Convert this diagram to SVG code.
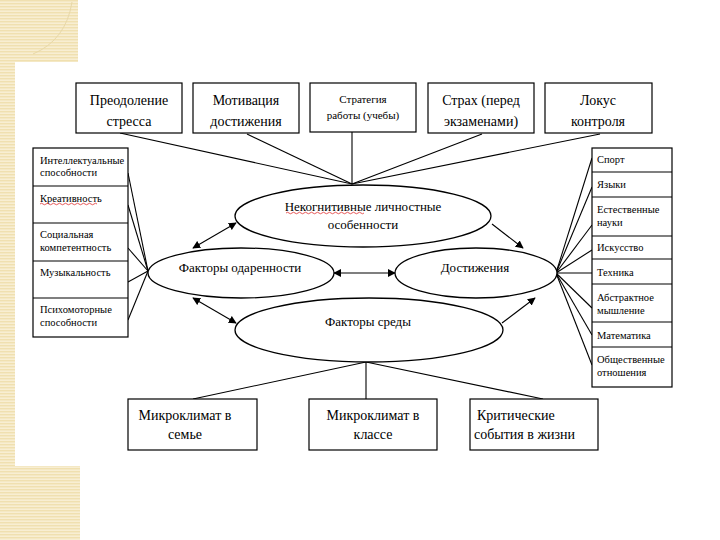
<svg xmlns="http://www.w3.org/2000/svg" width="720" height="540" viewBox="0 0 720 540">
<defs>
<pattern id="stripes" width="4" height="3" patternUnits="userSpaceOnUse">
<rect width="4" height="3" fill="#f8eed2"/>
<rect width="4" height="1.4" fill="#f0e0b0"/>
</pattern>
<marker id="ah" viewBox="0 0 10 10" refX="9" refY="5" markerWidth="8" markerHeight="8" markerUnits="userSpaceOnUse" orient="auto-start-reverse">
<path d="M0,0 L10,5 L0,10 z" fill="#000"/>
</marker>
<style>
.box{fill:#fff;stroke:#000;stroke-width:1.2}
.ell{fill:#fff;stroke:#000;stroke-width:1.3}
.ln{stroke:#000;stroke-width:1.1;fill:none}
.t14{font-size:14px;text-anchor:middle}
.t11{font-size:11px;text-anchor:middle}
.t13{font-size:13px;text-anchor:middle}
.ts{font-size:10.5px}
.wavy{stroke:#e03030;stroke-width:0.8;fill:none}
</style>
</defs>
<rect width="720" height="540" fill="#fff"/>
<g id="decor">
<rect x="0" y="0" width="78" height="62" fill="url(#stripes)"/>
<rect x="0" y="62" width="15" height="404" fill="url(#stripes)"/>
<rect x="0" y="466" width="80" height="74" fill="url(#stripes)"/>
<path d="M72,2 Q66,40 33,54" stroke="#e8d8a8" stroke-width="1" fill="none"/>
</g>
<g id="connectors">
<line class="ln" x1="120" y1="133" x2="352" y2="184"/>
<line class="ln" x1="247" y1="134" x2="352" y2="184"/>
<line class="ln" x1="352" y1="132" x2="352" y2="184"/>
<line class="ln" x1="482" y1="134" x2="352" y2="184"/>
<line class="ln" x1="600" y1="134" x2="352" y2="184"/>
<line class="ln" x1="128" y1="173" x2="148" y2="271"/>
<line class="ln" x1="128" y1="205" x2="148" y2="271"/>
<line class="ln" x1="128" y1="248" x2="148" y2="271"/>
<line class="ln" x1="128" y1="282" x2="148" y2="271"/>
<line class="ln" x1="128" y1="320" x2="148" y2="271"/>
<line class="ln" x1="592" y1="158" x2="556" y2="273"/>
<line class="ln" x1="592" y1="187" x2="556" y2="273"/>
<line class="ln" x1="592" y1="225" x2="556" y2="273"/>
<line class="ln" x1="592" y1="250" x2="556" y2="273"/>
<line class="ln" x1="592" y1="273" x2="556" y2="273"/>
<line class="ln" x1="592" y1="308" x2="556" y2="273"/>
<line class="ln" x1="592" y1="335" x2="556" y2="273"/>
<line class="ln" x1="592" y1="365" x2="556" y2="273"/>
<line class="ln" x1="366" y1="362" x2="193" y2="399"/>
<line class="ln" x1="366" y1="362" x2="366" y2="399"/>
<line class="ln" x1="366" y1="362" x2="543" y2="399"/>
<line class="ln" x1="236" y1="223" x2="193" y2="248" marker-start="url(#ah)" marker-end="url(#ah)"/>
<line class="ln" x1="492" y1="224" x2="523" y2="248" marker-end="url(#ah)"/>
<line class="ln" x1="334" y1="273" x2="395" y2="273" marker-start="url(#ah)" marker-end="url(#ah)"/>
<line class="ln" x1="193" y1="298" x2="236" y2="323" marker-start="url(#ah)" marker-end="url(#ah)"/>
<line class="ln" x1="502" y1="323" x2="535" y2="298" marker-end="url(#ah)"/>
</g>
<g font-family="Liberation Serif, Times New Roman, DejaVu Serif, serif" fill="#000">
<g id="box-stress"><rect class="box" x="76" y="83" width="106" height="50"/><text class="t14" x="129" y="105">Преодоление</text><text class="t14" x="129" y="126">стресса</text></g>
<g id="box-motivation"><rect class="box" x="193" y="83" width="106" height="50"/><text class="t14" x="246" y="105">Мотивация</text><text class="t14" x="246" y="126">достижения</text></g>
<g id="box-strategy"><rect class="box" x="310" y="83" width="106" height="49"/><text class="t11" x="363" y="103">Стратегия</text><text class="t11" x="363" y="119">работы (учебы)</text></g>
<g id="box-fear"><rect class="box" x="428" y="83" width="106" height="50"/><text class="t14" x="481" y="105">Страх (перед</text><text class="t14" x="481" y="126">экзаменами)</text></g>
<g id="box-locus"><rect class="box" x="545" y="83" width="107" height="50"/><text class="t14" x="598" y="105">Локус</text><text class="t14" x="598" y="126">контроля</text></g>
<g id="left-column">
<rect class="box" x="33" y="148" width="95" height="189"/>
<line class="ln" x1="33" y1="186" x2="128" y2="186"/>
<line class="ln" x1="33" y1="223" x2="128" y2="223"/>
<line class="ln" x1="33" y1="261" x2="128" y2="261"/>
<line class="ln" x1="33" y1="298" x2="128" y2="298"/>
<text class="ts" x="40" y="164">Интеллектуальные</text><text class="ts" x="40" y="176">способности</text>
<text class="ts" x="40" y="202">Креативность</text>
<path class="wavy" d="M40,204 q1.5,-1.5 3,0 t3,0 t3,0 t3,0 t3,0 t3,0 t3,0 t3,0 t3,0 t3,0 t3,0 t3,0 t3,0 t3,0 t3,0 t3,0 t3,0 t3,0 t3,0"/>
<text class="ts" x="40" y="238">Социальная</text><text class="ts" x="40" y="251">компетентность</text>
<text class="ts" x="40" y="276">Музыкальность</text>
<text class="ts" x="40" y="313">Психомоторные</text><text class="ts" x="40" y="326">способности</text>
</g>
<g id="right-column">
<rect class="box" x="592" y="148" width="80" height="239"/>
<line class="ln" x1="592" y1="172" x2="672" y2="172"/>
<line class="ln" x1="592" y1="197" x2="672" y2="197"/>
<line class="ln" x1="592" y1="236" x2="672" y2="236"/>
<line class="ln" x1="592" y1="259" x2="672" y2="259"/>
<line class="ln" x1="592" y1="284" x2="672" y2="284"/>
<line class="ln" x1="592" y1="322" x2="672" y2="322"/>
<line class="ln" x1="592" y1="347" x2="672" y2="347"/>
<text class="ts" x="597" y="163">Спорт</text>
<text class="ts" x="597" y="188">Языки</text>
<text class="ts" x="597" y="213">Естественные</text><text class="ts" x="597" y="226">науки</text>
<text class="ts" x="597" y="251">Искусство</text>
<text class="ts" x="597" y="276">Техника</text>
<text class="ts" x="597" y="301">Абстрактное</text><text class="ts" x="597" y="314">мышление</text>
<text class="ts" x="597" y="339">Математика</text>
<text class="ts" x="597" y="363">Общественные</text><text class="ts" x="597" y="376">отношения</text>
</g>
<g id="ell-noncog"><ellipse class="ell" cx="363" cy="216" rx="128" ry="31"/><text class="t13" x="363" y="211">Некогнитивные личностные</text><path class="wavy" d="M286,213 q1.5,-1.5 3,0 t3,0 t3,0 t3,0 t3,0 t3,0 t3,0 t3,0 t3,0 t3,0 t3,0 t3,0 t3,0 t3,0 t3,0 t3,0 t3,0 t3,0 t3,0 t3,0 t3,0 t3,0 t3,0 t3,0 t3,0 t3,0"/><text class="t13" x="363" y="229">особенности</text></g>
<g id="ell-gift"><ellipse class="ell" cx="241" cy="273" rx="93" ry="25"/><text class="t13" x="240" y="272">Факторы одаренности</text></g>
<g id="ell-achieve"><ellipse class="ell" cx="476" cy="273" rx="81" ry="25"/><text class="t13" x="475" y="272">Достижения</text></g>
<g id="ell-env"><ellipse class="ell" cx="369" cy="330" rx="134" ry="32"/><text class="t13" x="368" y="326">Факторы среды</text></g>
<g id="box-family"><rect class="box" x="128" y="399" width="129" height="51"/><text class="t14" x="185" y="420">Микроклимат в</text><text class="t14" x="185" y="439">семье</text></g>
<g id="box-class"><rect class="box" x="309" y="399" width="128" height="51"/><text class="t14" x="373" y="420">Микроклимат в</text><text class="t14" x="373" y="439">классе</text></g>
<g id="box-critical"><rect class="box" x="470" y="399" width="128" height="51"/><text class="t14" x="477" y="420" text-anchor="start" style="text-anchor:start">Критические</text><text class="t14" x="474" y="439" style="text-anchor:start">события в жизни</text></g>
</g>
</svg>
